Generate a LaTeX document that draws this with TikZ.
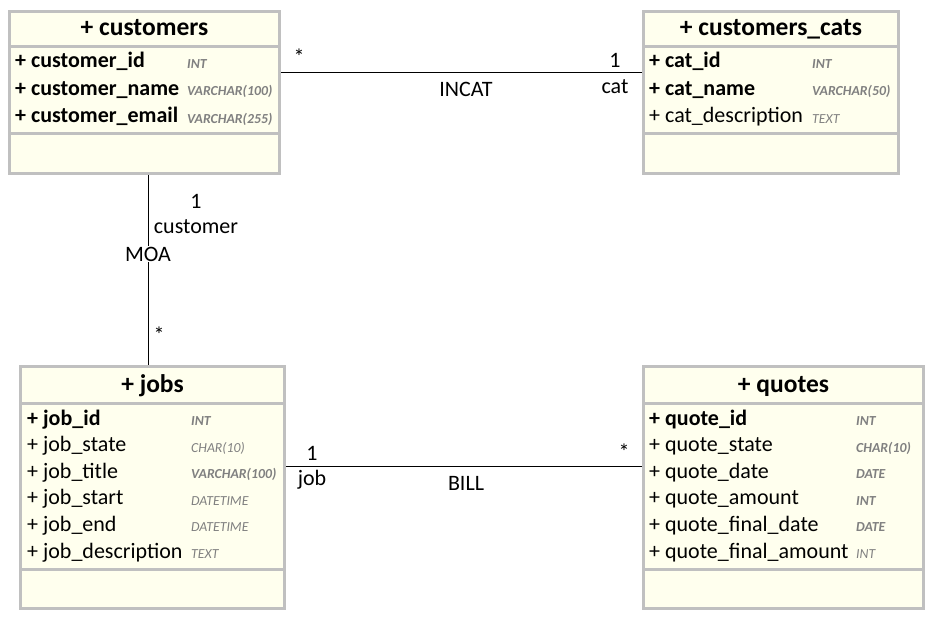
\documentclass[tikz,border=0pt]{standalone}
\usepackage{fontspec}
\setmainfont{Carlito}
\usetikzlibrary{calc}

\definecolor{boxFill}{RGB}{255,255,238}
\definecolor{boxLine}{RGB}{192,192,192}
\definecolor{typeGray}{RGB}{128,128,128}

\begin{document}
\begin{tikzpicture}
[x=1pt,y=-1pt,
  tableDecorate/.style={draw=boxLine,line width=3pt,fill=boxFill,anchor=north west,inner sep=0pt},
  sepDecorate/.style={draw=boxLine,line width=3pt},
  headDecorate/.style={anchor=base,font=\fontsize{25.5}{28}\selectfont\bfseries},
  fieldDecorate/.style={anchor=base west,inner sep=0pt,font=\fontsize{22}{26}\selectfont},
  typeDecorate/.style={anchor=base west,inner sep=0pt,text=typeGray,font=\fontsize{13.8}{16}\selectfont\itshape},
  lineDecorate/.style={-,line width=1pt},
  labelDecorate/.style={inner sep=1pt,font=\fontsize{22}{26}\selectfont}]
\useasboundingbox (0,0) rectangle (933,620);
%% tables
\foreach \name/\x/\y/\w/\h in {customers/8/10/270/162, cats/642/10/255/162,
  jobs/19/365/264/242, quotes/642/365/280/242}
{
  \node[tableDecorate,minimum width=\w pt,minimum height=\h pt] (\name) at (\x,\y) {};
}
%% compartments
\foreach \name/\a/\b in {customers/37/124, cats/37/124, jobs/38/204, quotes/38/204}
{
  \draw[sepDecorate] ($(\name.north west)+(0,\a)$) -- ($(\name.north east)+(0,\a)$);
  \draw[sepDecorate] ($(\name.north west)+(0,\b)$) -- ($(\name.north east)+(0,\b)$);
}
%% headers
\node[headDecorate] (customersHead) at ($(customers.north)+(0,26)$) {+ customers};
\node[headDecorate] (catsHead) at ($(cats.north)+(0,26)$) {+ customers\_cats};
\node[headDecorate] (jobsHead) at ($(jobs.north)+(0,27)$) {+ jobs};
\node[headDecorate] (quotesHead) at ($(quotes.north)+(0,27)$) {+ quotes};
%% fields
\foreach \fld/\typ/\fs/\ts [count=\i from 0] in {
  customer\_id/INT/\bfseries/\bfseries,
  customer\_name/VARCHAR(100)/\bfseries/\bfseries,
  customer\_email/VARCHAR(255)/\bfseries/\bfseries}
{
  \node[fieldDecorate] (customers-f\i) at ($(customers.north west)+(7,58+27.5*\i)$) {\fs + \fld};
  \node[typeDecorate] (customers-t\i) at ($(customers.north west)+(179,58.5+27.5*\i)$) {\ts \typ};
}
\foreach \fld/\typ/\fs/\ts [count=\i from 0] in {
  cat\_id/INT/\bfseries/\bfseries,
  cat\_name/VARCHAR(50)/\bfseries/\bfseries,
  cat\_description/TEXT/\mdseries/\mdseries}
{
  \node[fieldDecorate] (cats-f\i) at ($(cats.north west)+(7,58+27.5*\i)$) {\fs + \fld};
  \node[typeDecorate] (cats-t\i) at ($(cats.north west)+(170,58.5+27.5*\i)$) {\ts \typ};
}
\foreach \fld/\typ/\fs/\ts [count=\i from 0] in {
  job\_id/INT/\bfseries/\bfseries,
  job\_state/CHAR(10)/\mdseries/\mdseries,
  job\_title/VARCHAR(100)/\mdseries/\bfseries,
  job\_start/DATETIME/\mdseries/\mdseries,
  job\_end/DATETIME/\mdseries/\mdseries,
  job\_description/TEXT/\mdseries/\mdseries}
{
  \node[fieldDecorate] (jobs-f\i) at ($(jobs.north west)+(8,60+26.6*\i)$) {\fs + \fld};
  \node[typeDecorate] (jobs-t\i) at ($(jobs.north west)+(172,60.5+26.6*\i)$) {\ts \typ};
}
\foreach \fld/\typ/\fs/\ts [count=\i from 0] in {
  quote\_id/INT/\bfseries/\bfseries,
  quote\_state/CHAR(10)/\mdseries/\bfseries,
  quote\_date/DATE/\mdseries/\bfseries,
  quote\_amount/INT/\mdseries/\bfseries,
  quote\_final\_date/DATE/\mdseries/\bfseries,
  quote\_final\_amount/INT/\mdseries/\mdseries}
{
  \node[fieldDecorate] (quotes-f\i) at ($(quotes.north west)+(7,60+26.6*\i)$) {\fs + \fld};
  \node[typeDecorate] (quotes-t\i) at ($(quotes.north west)+(214,60.5+26.6*\i)$) {\ts \typ};
}
%% associations
\draw[lineDecorate] ($(customers.north east)+(0,63)$) -- ($(cats.north west)+(0,63)$);
\draw[lineDecorate] ([xshift=4pt]customers.south) -- ([xshift=-4pt]jobs.north);
\draw[lineDecorate] ($(jobs.north east)+(0,101)$) -- ($(quotes.north west)+(0,101)$);
%% labels
\node[labelDecorate] (incatMany) at (299,57) {*};
\node[labelDecorate] (incatOne) at (615,60) {1};
\node[labelDecorate] (incatRole) at (615,87) {cat};
\node[labelDecorate] (incatName) at (466,89) {INCAT};
\node[labelDecorate] (moaOne) at (196,201) {1};
\node[labelDecorate] (moaRole) at (196,227) {customer};
\node[labelDecorate,fill=white] (moaName) at (148,254) {MOA};
\node[labelDecorate] (moaMany) at (159,335) {*};
\node[labelDecorate] (billOne) at (312,453) {1};
\node[labelDecorate] (billRole) at (312,480) {job};
\node[labelDecorate] (billName) at (466,483) {BILL};
\node[labelDecorate] (billMany) at (624,452) {*};
\end{tikzpicture}
\end{document}
